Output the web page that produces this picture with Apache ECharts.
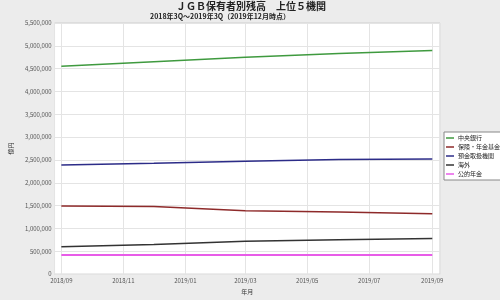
<!DOCTYPE html>
<html><head><meta charset="utf-8">
<script src="https://cdn.jsdelivr.net/npm/echarts@6/dist/echarts.min.js"></script>
<style>html,body{margin:0;padding:0;background:#ececec}#c{width:500px;height:300px}</style>
</head><body><div id="c"></div>
<script>
const dates = ['2018-09-01', '2018-12-01', '2019-03-01', '2019-06-01', '2019-09-01'];
const seriesNames = ['中央銀行', '保険・年金基金', '預金取扱機関', '海外', '公的年金'];
const centralBank = [4550000, 4650000, 4750000, 4830000, 4900000];
const insurance = [1490000, 1480000, 1390000, 1360000, 1320000];
const depository = [2390000, 2430000, 2470000, 2510000, 2520000];
const overseas = [600000, 650000, 720000, 750000, 780000];
const publicPension = [420000, 420000, 420000, 420000, 420000];
const yTicks = { min: 0, max: 5500000, interval: 500000 };

const colors = ['#3f9a3f', '#8e2a2a', '#2c2c88', '#333333', '#e85ce8'];
const values = [centralBank, insurance, depository, overseas, publicPension];
const DAY = 86400000;
const toTs = s => { const p = s.split('-').map(Number); return new Date(p[0], p[1] - 1, p[2]).getTime(); };
const xMin = toTs(dates[0]) - 6.7 * DAY;
const xMax = toTs(dates[dates.length - 1]) + 7.6 * DAY;
const font = '"Noto Sans CJK JP", sans-serif';

const chart = echarts.init(document.getElementById('c'), null, { renderer: 'canvas' });
chart.setOption({
  backgroundColor: '#ececec',
  animation: false,
  textStyle: { fontFamily: font },
  title: [
    { text: 'ＪＧＢ保有者別残高　上位５機関', left: 251, textAlign: 'center', top: 1, padding: 0,
      textStyle: { fontSize: 10, fontWeight: 'bold', color: '#222', fontFamily: font } },
    { text: '2018年3Q～2019年3Q（2019年12月時点）', left: 220, textAlign: 'center', top: 13, padding: 0,
      textStyle: { fontSize: 7, fontWeight: 'bold', color: '#222', fontFamily: font } }
  ],
  legend: {
    orient: 'vertical', left: 444, top: 132,
    data: seriesNames,
    itemWidth: 8, itemHeight: 1.5, itemGap: 3,
    backgroundColor: '#ffffff', borderColor: '#888', borderWidth: 1,
    padding: [3, 4, 3, 2],
    icon: 'rect',
    textStyle: { fontSize: 6, lineHeight: 6, color: '#222', fontFamily: font, padding: [0, 0, 0, -1] }
  },
  grid: { left: 43, right: 60, top: 23, bottom: 21, show: true, backgroundColor: '#ffffff', borderColor: '#cfcfcf', borderWidth: 1 },
  xAxis: {
    type: 'time', min: xMin, max: xMax,
    splitNumber: 6, minInterval: 62 * DAY, maxInterval: 62 * DAY,
    name: '年月', nameLocation: 'middle', nameGap: 13,
    nameTextStyle: { fontSize: 6, color: '#333', fontFamily: font },
    axisLine: { show: false }, axisTick: { show: false },
    axisLabel: { fontSize: 6, color: '#555', margin: 4, showMinLabel: false, showMaxLabel: false,
      formatter: v => echarts.time.format(v, '{yyyy}/{MM}', false) },
    splitLine: { show: true, lineStyle: { color: '#e4e4e4', width: 1 } }
  },
  yAxis: {
    type: 'value', min: yTicks.min, max: yTicks.max, interval: yTicks.interval,
    name: '億円', nameLocation: 'middle', nameGap: 33, nameRotate: 90,
    nameTextStyle: { fontSize: 6, color: '#333', fontFamily: font },
    axisLine: { show: false }, axisTick: { show: false },
    axisLabel: { fontSize: 6, color: '#555', margin: 3,
      formatter: v => v.toLocaleString('en-US') },
    splitLine: { show: true, lineStyle: { color: '#e4e4e4', width: 1 } }
  },
  series: seriesNames.map((n, i) => ({
    name: n, type: 'line', symbol: 'none', color: colors[i],
    lineStyle: { width: i === 4 ? 2 : 1.5, color: colors[i] },
    data: dates.map((d, j) => [toTs(d), values[i][j]])
  }))
});
</script></body></html>
